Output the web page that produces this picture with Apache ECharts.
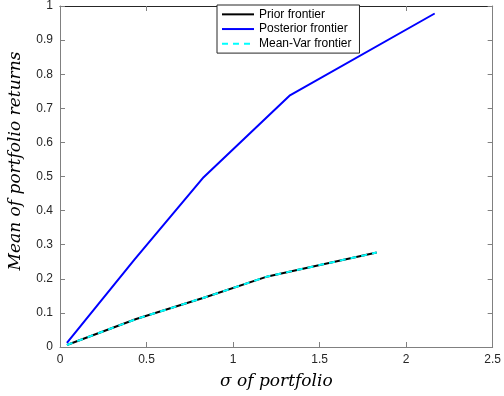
<!DOCTYPE html>
<html>
<head>
<meta charset="utf-8">
<script src="https://cdn.jsdelivr.net/npm/echarts@6/dist/echarts.min.js"></script>
<style>
  html, body { margin: 0; padding: 0; background: #fff; }
  #chart { width: 504px; height: 396px; }
</style>
</head>
<body>
<div id="chart"></div>
<script>
// Efficient frontiers: [sigma, mean] pairs
const priorFrontier = [[0.04, 0.006], [0.44, 0.082], [0.84, 0.146], [1.2, 0.207], [1.83, 0.277]];
const posteriorFrontier = [[0.04, 0.012], [0.43, 0.256], [0.83, 0.498], [1.326, 0.737], [2.165, 0.978]];
const meanVarFrontier = [[0.04, 0.006], [0.44, 0.082], [0.84, 0.146], [1.2, 0.207], [1.83, 0.277]];

const seriesNames = ['Prior frontier', 'Posterior frontier', 'Mean-Var frontier'];
const xTicks = { min: 0, max: 2.5, step: 0.5 };
const yTicks = { min: 0, max: 1, step: 0.1 };
const xTitle = 'σ of portfolio';
const yTitle = 'Mean of portfolio returns';

const axisGray = '#808080';
const labelColor = '#262626';
const sansFamily = 'Liberation Sans, Arial, sans-serif';
const tickFont = { fontFamily: sansFamily, fontSize: 12, color: labelColor };
const mathFont = { fontFamily: 'DejaVu Serif, serif', fontStyle: 'italic', fontSize: 17, color: '#000' };

const chart = echarts.init(document.getElementById('chart'), null, { renderer: 'canvas' });

function frameAxis(extra) {
  return Object.assign({
    type: 'value',
    axisLine: { show: true, onZero: false, lineStyle: { color: axisGray, width: 1 } },
    axisTick: { show: true, inside: true, length: 5, lineStyle: { color: axisGray } },
    splitLine: { show: false }
  }, extra);
}

chart.setOption({
  animation: false,
  backgroundColor: '#fff',
  grid: { left: 60, right: 10, top: 5, bottom: 49, containLabel: false },
  xAxis: [
    frameAxis({
      position: 'bottom',
      min: xTicks.min, max: xTicks.max, interval: xTicks.step,
      axisLabel: Object.assign({ margin: 7 }, tickFont),
      name: xTitle, nameLocation: 'middle', nameGap: 26,
      nameTextStyle: mathFont
    }),
    frameAxis({
      position: 'top',
      min: xTicks.min, max: xTicks.max, interval: xTicks.step,
      axisLine: { show: true, onZero: false, lineStyle: { color: '#262626', width: 1 } },
      axisLabel: { show: false }
    })
  ],
  yAxis: [
    frameAxis({
      position: 'left',
      min: yTicks.min, max: yTicks.max, interval: yTicks.step,
      axisLabel: Object.assign({ margin: 7, formatter: v => String(+v.toFixed(1)) }, tickFont)
    }),
    frameAxis({
      position: 'right',
      min: yTicks.min, max: yTicks.max, interval: yTicks.step,
      axisLabel: { show: false }
    })
  ],
  graphic: [{
    type: 'text',
    x: 16, y: 161,
    rotation: Math.PI / 2,
    style: Object.assign({ text: yTitle, align: 'center', verticalAlign: 'middle' }, {
      font: 'italic 17px "DejaVu Serif", serif', fill: '#000'
    })
  }],
  legend: {
    orient: 'vertical',
    left: 217, top: 5,
    data: seriesNames,
    backgroundColor: '#fff',
    borderColor: '#262626', borderWidth: 1, borderRadius: 0,
    padding: [2, 8, 2, 4],
    itemGap: 0,
    itemWidth: 32, itemHeight: 10,
    itemStyle: { opacity: 0 },
    textStyle: { fontFamily: sansFamily, fontSize: 12, lineHeight: 14.7, color: '#000', padding: [0, 0, 0, 0] }
  },
  series: [
    {
      name: seriesNames[0], type: 'line', data: priorFrontier,
      symbol: 'none', lineStyle: { color: '#000', width: 2 }, itemStyle: { color: '#000' }, z: 2
    },
    {
      name: seriesNames[1], type: 'line', data: posteriorFrontier,
      symbol: 'none', lineStyle: { color: '#0000ff', width: 2 }, itemStyle: { color: '#0000ff' }, z: 2
    },
    {
      name: seriesNames[2], type: 'line', data: meanVarFrontier,
      symbol: 'none', lineStyle: { color: '#00ffff', width: 2, type: [6, 5] }, itemStyle: { color: '#00ffff' }, z: 3
    }
  ]
});
</script>
</body>
</html>
